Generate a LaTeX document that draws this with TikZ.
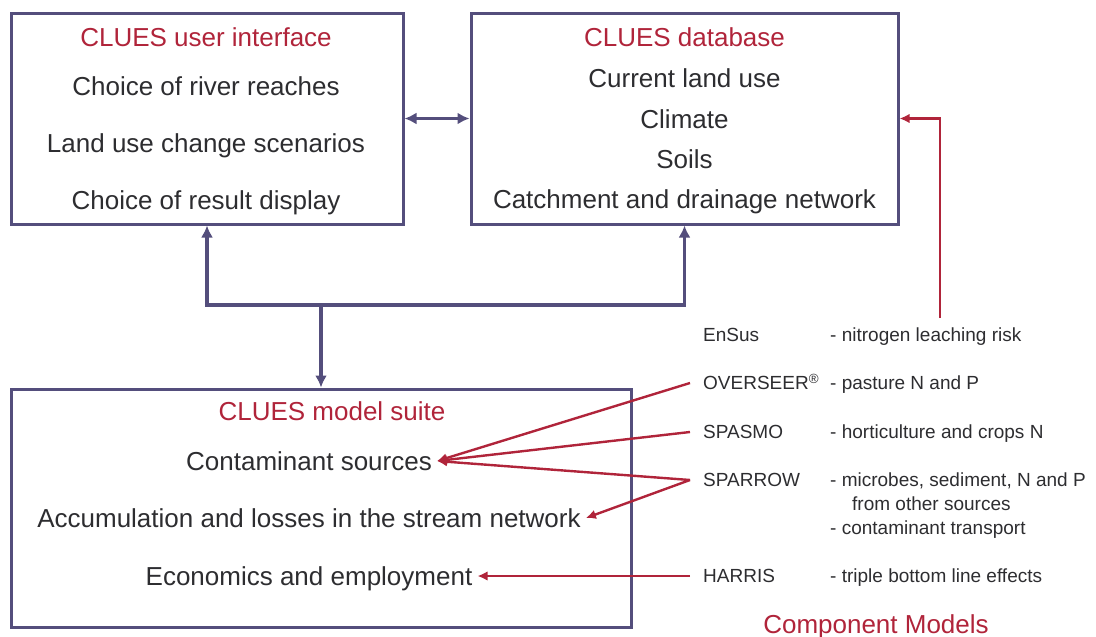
\documentclass[tikz,border=0pt]{standalone}
\usepackage{fontspec}
\setmainfont{Liberation Sans}
\usetikzlibrary{arrows.meta}
\usetikzlibrary{positioning}
\definecolor{mpurple}{RGB}{84,78,124}
\definecolor{mred}{RGB}{176,36,58}
\definecolor{mgrey}{RGB}{45,45,48}

\begin{document}
\begin{tikzpicture}[x=1pt, y=-1pt,
    panel/.style={draw=mpurple, line width=3pt, inner sep=0pt},
    big/.style={text=mgrey, font=\fontsize{26pt}{30pt}\selectfont,
      text height=18.6pt, text depth=0pt, inner ysep=0pt, inner xsep=5pt},
    heading/.style={big, text=mred},
    model/.style={text=mgrey, font=\fontsize{19pt}{22pt}\selectfont,
      text height=13.6pt, text depth=0pt, inner ysep=0pt, anchor=west},
    link/.style={draw=mpurple, line width=3.3pt, -{Latex[length=12pt,width=12pt]}},
    feed/.style={draw=mred, line width=2.4pt, -{Latex[length=10pt,width=9.5pt]}}]
  \useasboundingbox (0,0) rectangle (1096,637);

  % the three boxes
  \node[panel, minimum width=392pt, minimum height=211pt] (ui) at (207,118.5) {};
  \node[panel, minimum width=427pt, minimum height=211pt] (db) at (684.5,118.5) {};
  \node[panel, minimum width=620pt, minimum height=238pt] (suite) at (321,508) {};

  % user interface
  \node[heading] (uititle) at (206,37) {CLUES user interface};
  \node[big] (reaches) at (206,86) {Choice of river reaches};
  \node[big] (scenarios) at (206,143) {Land use change scenarios};
  \node[big] (display) at (206,200) {Choice of result display};

  % database
  \node[heading] (dbtitle) at (684.5,37) {CLUES database};
  \node[big] (landuse) at (684.5,78) {Current land use};
  \node[big] (climate) at (684.5,119) {Climate};
  \node[big] (soils) at (684.5,159) {Soils};
  \node[big] (catchment) at (684.5,199) {Catchment and drainage network};

  % model suite
  \node[heading] (suitetitle) at (332,411) {CLUES model suite};
  \node[big] (sources) at (309,461) {Contaminant sources};
  \node[big] (network) at (309,518) {Accumulation and losses in the stream network};
  \node[big] (economics) at (309,576) {Economics and employment};

  % component models
  \node[model, inner xsep=13pt] (ensus) at (690,335) {EnSus};
  \node[model, inner xsep=13pt] (overseer) at (690,383) {OVERSEER\textsuperscript{®}};
  \node[model, inner xsep=13pt] (spasmo) at (690,432) {SPASMO};
  \node[model, inner xsep=13pt] (sparrow) at (690,480) {SPARROW};
  \node[model, inner xsep=13pt] (harris) at (690,576) {HARRIS};

  \node[model, inner xsep=0pt] (ensusdesc) at (830,335) {- nitrogen leaching risk};
  \node[model, inner xsep=0pt] (overseerdesc) at (830,383) {- pasture N and P};
  \node[model, inner xsep=0pt] (spasmodesc) at (830,432) {- horticulture and crops N};
  \node[model, inner xsep=0pt] (sparrowdesc) at (830,480) {- microbes, sediment, N and P};
  \node[model, inner xsep=0pt] (otherdesc) at (852,504) {from other sources};
  \node[model, inner xsep=0pt] (transportdesc) at (830,528) {- contaminant transport};
  \node[model, inner xsep=0pt] (harrisdesc) at (830,576) {- triple bottom line effects};

  \node[heading] (components) at (876,624) {Component Models};

  % purple connectors
  \draw[link, {Latex[length=12pt,width=12pt]}-{Latex[length=12pt,width=12pt]}] (ui) -- (db);
  \coordinate (split) at (321,305);
  \draw[link] (split) -| (ui.south);
  \draw[link] (split) -| (db.south);
  \draw[link] (split) -- (suite.north);

  % red connectors
  \coordinate (feedin) at (940,318);
  \draw[feed] (feedin) |- (db.east);
  \draw[feed] (overseer.west) -- (sources.east);
  \draw[feed] (spasmo.west) -- (sources.east);
  \draw[feed] (sparrow.west) -- (sources.east);
  \draw[feed] (sparrow.west) -- (network.east);
  \draw[feed] (harris.west) -- (economics.east);
\end{tikzpicture}
\end{document}
